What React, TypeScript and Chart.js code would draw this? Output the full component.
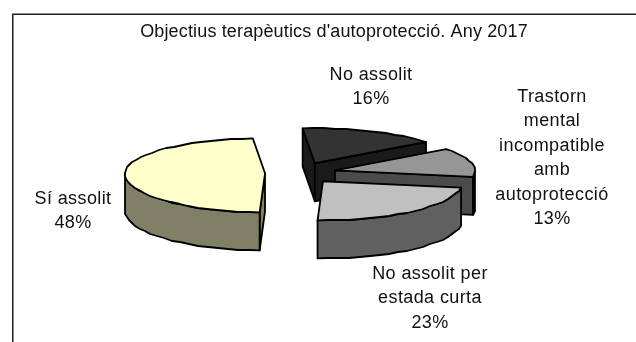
import React, { useEffect, useRef } from "react";
import { Chart, registerables } from "chart.js";

Chart.register(...registerables);

const categories = ["No assolit", "Trastorn mental incompatible amb autoprotecció", "No assolit per estada curta", "Sí assolit"];
const values = [16, 13, 23, 48];
const topColors = ["#333333", "#969696", "#C0C0C0", "#FFFFCC"];
const wallColors = ["#1A1A1A", "#4B4B4B", "#606060", "#808066"];
const labelLines = [["No assolit"], ["Trastorn", "mental", "incompatible", "amb", "autoprotecció"], ["No assolit per", "estada curta"], ["Sí assolit"]];
const labelAnchors = [[371, 75], [552, 97], [430, 274], [73, 199]];
const titleText = "Objectius terapèutics d'autoprotecció. Any 2017";

const FONT_FAMILY = '"Liberation Sans", Arial, sans-serif';
const LINE_GAP = 24.4;
const DEPTH = 38;
const BACK_SQUASH = 0.25;
const FRONT_SQUASH = 0.28;
const EXPLODE_SQUASH = 0.3;
const SHIFT_X = -33.5;

const pie3d = {
  id: "pie3d",
  beforeDatasetsDraw(chart: any) {
    const ctx: any = chart.ctx;
    const meta = chart.getDatasetMeta(0);
    ctx.save();
    ctx.lineWidth = 1.8;
    ctx.lineJoin = "round";
    ctx.strokeStyle = "#000";
    meta.data.forEach((arc: any, i: number) => {
      const { x, y, startAngle, endAngle, outerRadius } = arc.getProps(["x", "y", "startAngle", "endAngle", "outerRadius"], true);
      const off = arc.options.offset;
      const mid = (startAngle + endAngle) / 2;
      const sq = (a: number) => (Math.sin(a) > 0 ? FRONT_SQUASH : BACK_SQUASH);
      const ax = x + SHIFT_X + Math.cos(mid) * off;
      const ay = y + Math.sin(mid) * off * EXPLODE_SQUASH;
      const pt = (a: number): [number, number] => [ax + Math.cos(a) * outerRadius, ay + Math.sin(a) * outerRadius * sq(a)];
      const rim = (from: number, to: number) => {
        const steps = Math.max(2, Math.ceil(Math.abs(to - from) / (Math.PI / 40)));
        const out: [number, number][] = [];
        for (let k = 0; k <= steps; k++) {
          const p = pt(from + ((to - from) * k) / steps);
          out.push(k === 0 || k === steps ? p : [Math.round(p[0]), Math.round(p[1])]);
        }
        return out;
      };
      const shape = (pts: [number, number][], fill: string) => {
        ctx.beginPath();
        pts.forEach((p, k) => (k ? ctx.lineTo(p[0], p[1]) : ctx.moveTo(p[0], p[1])));
        ctx.closePath();
        ctx.fillStyle = fill;
        ctx.fill();
        ctx.stroke();
      };
      const wall = wallColors[i];
      const apex: [number, number] = [ax, ay];
      const down = (p: [number, number]): [number, number] => [p[0], p[1] + DEPTH];
      if (Math.cos(startAngle) < 0) {
        const p = pt(startAngle);
        shape([apex, p, down(p), down(apex)], wall);
      }
      if (Math.cos(endAngle) > 0) {
        const p = pt(endAngle);
        shape([apex, p, down(p), down(apex)], wall);
      }
      const two = Math.PI * 2;
      for (const base of [-two, 0, two]) {
        const from = Math.max(startAngle, base);
        const to = Math.min(endAngle, base + Math.PI);
        if (to > from) {
          const r = rim(from, to);
          shape([...r, ...r.slice().reverse().map(down)], wall);
        }
      }
      shape([apex, ...rim(startAngle, endAngle)], arc.options.backgroundColor);
    });
    ctx.fillStyle = "#111";
    ctx.font = "18px " + FONT_FAMILY;
    ctx.letterSpacing = "0.4px";
    ctx.textAlign = "center";
    ctx.textBaseline = "middle";
    const total = values.reduce((a, b) => a + b, 0);
    labelLines.forEach((lines, i) => {
      const all = [...lines, Math.round((values[i] / total) * 100) + "%"];
      all.forEach((t, k) => ctx.fillText(t, labelAnchors[i][0], labelAnchors[i][1] + k * LINE_GAP));
    });
    ctx.restore();
    return false;
  },
};

const frame = {
  id: "frame",
  beforeDraw(chart: any) {
    const ctx: any = chart.ctx;
    ctx.save();
    ctx.strokeStyle = "#222";
    ctx.lineWidth = 1.5;
    ctx.beginPath();
    ctx.moveTo(12.75, chart.height);
    ctx.lineTo(12.75, 14.25);
    ctx.lineTo(chart.width, 14.25);
    ctx.stroke();
    ctx.restore();
    ctx.letterSpacing = "0.15px";
  },
};

export default function App() {
  const ref = useRef<HTMLCanvasElement>(null);
  useEffect(() => {
    document.body.style.margin = "0";
    const chart = new Chart(ref.current as HTMLCanvasElement, {
      type: "pie",
      data: {
        labels: categories,
        datasets: [{ data: values, backgroundColor: topColors, offset: 35.5, radius: 140, rotation: -5 } as any],
      },
      options: {
        responsive: false,
        animation: false,
        layout: { padding: { left: 32, right: 0, top: 0, bottom: 39.3 } },
        plugins: {
          legend: { display: false },
          tooltip: { enabled: false },
          title: {
            display: true,
            text: titleText,
            color: "#111",
            font: { family: FONT_FAMILY, size: 18, weight: "normal", lineHeight: 1.2 },
            padding: { top: 21.7, bottom: 0 },
          },
        },
      } as any,
      plugins: [frame, pie3d],
    });
    return () => chart.destroy();
  }, []);
  return <canvas ref={ref} width={636} height={342} style={{ display: "block" }} />;
}
